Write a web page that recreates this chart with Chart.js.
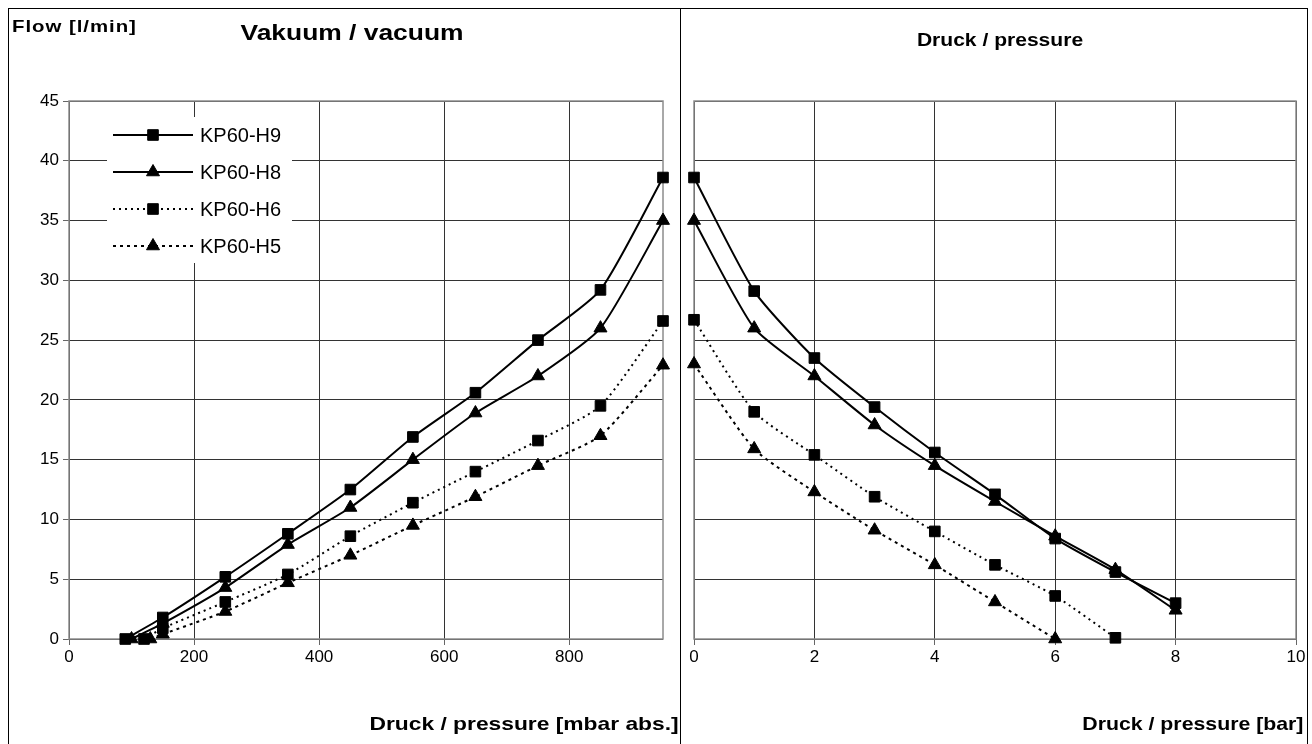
<!DOCTYPE html>
<html>
<head>
<meta charset="utf-8">
<script src="https://cdn.jsdelivr.net/npm/chart.js@4.4.1/dist/chart.umd.min.js"></script>
<style>
    html, body { margin: 0; padding: 0; background: #fff; overflow: hidden; }
    body { width: 1312px; height: 744px; position: relative; font-family: "Liberation Sans", Arial, sans-serif; }
    .frame { position: absolute; left: 8px; top: 8px; width: 1298px; height: 760px; border: 1px solid #000; }
    .divider { position: absolute; left: 680px; top: 8px; width: 1px; height: 740px; background: #000; }
    .box { position: absolute; top: 0; height: 744px; }
    .txt { position: absolute; font-weight: bold; color: #000; white-space: nowrap; line-height: 1; }
</style>
</head>
<body>
<div class="frame"></div>
<div class="divider"></div>
<div class="box" style="left:0; width:680px;"><canvas id="chartVacuum" width="680" height="744"></canvas></div>
<div class="box" style="left:680px; width:632px;"><canvas id="chartPressure" width="632" height="744"></canvas></div>

<div class="txt" style="left:12px; top:18px; font-size:17px; letter-spacing:0.8px; transform:scaleX(1.2); transform-origin:left;">Flow [l/min]</div>
<div class="txt" style="left:352px; top:22px; font-size:22px; transform:translateX(-50%) scaleX(1.2);">Vakuum / vacuum</div>
<div class="txt" style="left:1000px; top:31px; font-size:18px; transform:translateX(-50%) scaleX(1.17);">Druck / pressure</div>
<div class="txt" style="right:633px; top:714px; font-size:19px; transform:scaleX(1.2); transform-origin:right;">Druck / pressure [mbar abs.]</div>
<div class="txt" style="right:9px; top:714px; font-size:19px; transform:scaleX(1.12); transform-origin:right;">Druck / pressure [bar]</div>

<script>
// Serien / series
const seriesNames = ['KP60-H9', 'KP60-H8', 'KP60-H6', 'KP60-H5'];

// Vakuum: Druck [mbar abs.] und Flow [l/min]
const vacX_H9 = [90, 150, 250, 350, 450, 550, 650, 750, 850, 950];
const vacY_H9 = [0, 1.8, 5.2, 8.8, 12.5, 16.9, 20.6, 25.0, 29.2, 38.6];
const vacX_H8 = [100, 150, 250, 350, 450, 550, 650, 750, 850, 950];
const vacY_H8 = [0, 1.3, 4.3, 7.9, 11.0, 15.0, 18.9, 22.0, 26.0, 35.0];
const vacX_H6 = [120, 150, 250, 350, 450, 550, 650, 750, 850, 950];
const vacY_H6 = [0, 0.9, 3.1, 5.4, 8.6, 11.4, 14.0, 16.6, 19.5, 26.6];
const vacX_H5 = [130, 150, 250, 350, 450, 550, 650, 750, 850, 950];
const vacY_H5 = [0, 0.4, 2.3, 4.7, 7.0, 9.5, 11.9, 14.5, 17.0, 22.9];

// Druck: Druck [bar] und Flow [l/min]
const presX_H9 = [0, 1, 2, 3, 4, 5, 6, 7, 8];
const presY_H9 = [38.6, 29.1, 23.5, 19.4, 15.6, 12.1, 8.4, 5.6, 3.0];
const presX_H8 = [0, 1, 2, 3, 4, 5, 6, 7, 8];
const presY_H8 = [35.0, 26.0, 22.0, 17.9, 14.5, 11.5, 8.6, 5.8, 2.4];
const presX_H6 = [0, 1, 2, 3, 4, 5, 6, 7];
const presY_H6 = [26.7, 19.0, 15.4, 11.9, 9.0, 6.2, 3.6, 0.1];
const presX_H5 = [0, 1, 2, 3, 4, 5, 6];
const presY_H5 = [23.0, 15.9, 12.3, 9.1, 6.2, 3.1, 0];

// Achsen / axes
const flowTicks = [0, 5, 10, 15, 20, 25, 30, 35, 40, 45];
const vacTicks = [0, 200, 400, 600, 800];
const vacMax = 950;
const presTicks = [0, 2, 4, 6, 8, 10];

Chart.defaults.font.family = '"Liberation Sans", Arial, sans-serif';
Chart.defaults.color = '#000';

const pointStyles = ['rect', 'triangle', 'rect', 'triangle'];
const dashes = [[], [], [2, 4], [3, 4]];

function pts(xs, ys) {
    return xs.map((x, i) => ({ x: x, y: ys[i] }));
}

function makeDataset(i, data) {
    return {
        label: seriesNames[i],
        data: data,
        borderColor: '#000',
        backgroundColor: '#000',
        borderWidth: 2,
        borderDash: dashes[i],
        tension: 0.2,
        pointStyle: pointStyles[i],
        pointRadius: 7.5,
        pointBorderWidth: 1,
        pointBackgroundColor: '#000',
        pointBorderColor: '#000',
        clip: false
    };
}

// grauer Rahmen um die Zeichenfläche
const plotFrame = {
    id: 'plotFrame',
    beforeDatasetsDraw(chart) {
        const a = chart.chartArea;
        const ctx = chart.ctx;
        ctx.save();
        ctx.strokeStyle = '#8c8c8c';
        ctx.lineWidth = 1.5;
        ctx.strokeRect(a.left, a.top, a.right - a.left, a.bottom - a.top);
        ctx.restore();
    }
};

// Legende im Stil von Excel (Linie + Marker)
const excelLegend = {
    id: 'excelLegend',
    beforeDatasetsDraw(chart) {
        const a = chart.chartArea;
        const ctx = chart.ctx;
        const left = a.left + 38, top = a.top + 16;
        ctx.save();
        ctx.fillStyle = '#fff';
        ctx.fillRect(left, top, 185, 146);
        chart.data.datasets.forEach((ds, i) => {
            const y = top + 18 + i * 37;
            ctx.save();
            ctx.strokeStyle = '#000';
            ctx.lineWidth = ds.borderWidth;
            ctx.setLineDash(ds.borderDash);
            ctx.beginPath();
            ctx.moveTo(left + 6, y);
            ctx.lineTo(left + 86, y);
            ctx.stroke();
            ctx.restore();
            ctx.fillStyle = '#000';
            ctx.strokeStyle = '#000';
            ctx.lineWidth = 1;
            Chart.helpers.drawPoint(ctx, {
                pointStyle: ds.pointStyle, radius: ds.pointRadius, borderWidth: 1, rotation: 0
            }, left + 46, y);
            ctx.font = '20px "Liberation Sans", Arial, sans-serif';
            ctx.textBaseline = 'middle';
            ctx.fillText(ds.label, left + 93, y + 1);
        });
        ctx.restore();
    }
};

function yScale(showLabels, width) {
    return {
        min: 0,
        max: 45,
        afterBuildTicks: s => { s.ticks = flowTicks.map(v => ({ value: v })); },
        afterFit: s => { s.width = width; },
        ticks: { display: showLabels, font: { size: 17 }, padding: 4 },
        grid: { color: '#333', lineWidth: 1, drawTicks: showLabels, tickLength: 6, tickColor: '#666' },
        border: { display: false }
    };
}

function xScale(min, max, ticks) {
    return {
        type: 'linear',
        min: min,
        max: max,
        afterBuildTicks: s => { s.ticks = ticks.map(v => ({ value: v })); },
        afterFit: s => { s.height = 105; },
        ticks: { font: { size: 17 }, padding: 2, maxRotation: 0 },
        grid: { color: '#333', lineWidth: 1, tickLength: 6, tickColor: '#666' },
        border: { display: false }
    };
}

document.addEventListener('DOMContentLoaded', () => {
    // Vakuum / vacuum
    new Chart(document.getElementById('chartVacuum'), {
        type: 'line',
        data: {
            datasets: [
                makeDataset(0, pts(vacX_H9, vacY_H9)),
                makeDataset(1, pts(vacX_H8, vacY_H8)),
                makeDataset(2, pts(vacX_H6, vacY_H6)),
                makeDataset(3, pts(vacX_H5, vacY_H5))
            ]
        },
        options: {
            responsive: false,
            animation: false,
            devicePixelRatio: 1,
            layout: { padding: { left: 0, right: 17, top: 101, bottom: 0 } },
            plugins: { legend: { display: false }, tooltip: { enabled: false } },
            scales: {
                x: xScale(0, vacMax, vacTicks),
                y: yScale(true, 69)
            }
        },
        plugins: [plotFrame, excelLegend]
    });

    // Druck / pressure
    new Chart(document.getElementById('chartPressure'), {
        type: 'line',
        data: {
            datasets: [
                makeDataset(0, pts(presX_H9, presY_H9)),
                makeDataset(1, pts(presX_H8, presY_H8)),
                makeDataset(2, pts(presX_H6, presY_H6)),
                makeDataset(3, pts(presX_H5, presY_H5))
            ]
        },
        options: {
            responsive: false,
            animation: false,
            devicePixelRatio: 1,
            layout: { padding: { left: 0, right: 16, top: 101, bottom: 0 } },
            plugins: { legend: { display: false }, tooltip: { enabled: false } },
            scales: {
                x: xScale(0, 10, presTicks),
                y: yScale(false, 14)
            }
        },
        plugins: [plotFrame]
    });
});
</script>
</body>
</html>
